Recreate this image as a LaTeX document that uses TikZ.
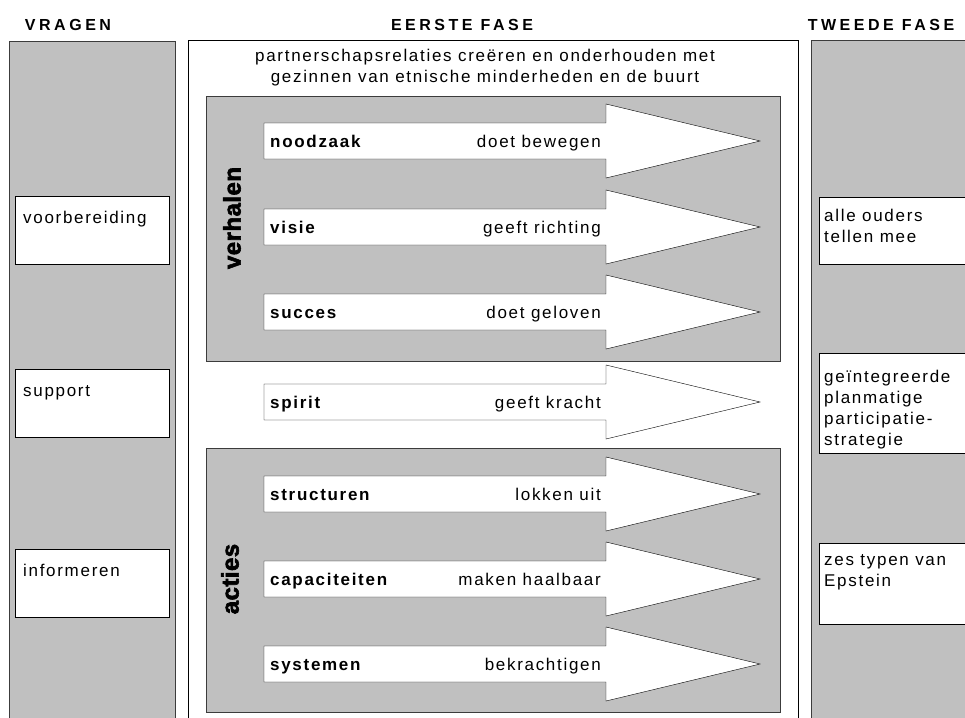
\documentclass[tikz,border=0pt]{standalone}
\usepackage{fontspec}
\setmainfont{Liberation Sans}[LetterSpace=10]
\newfontfamily\heavyfont{Liberation Sans}[LetterSpace=2, BoldFeatures={FakeBold=2.5}]
\usetikzlibrary{positioning}
\definecolor{panelgray}{RGB}{192,192,192}
\definecolor{rimgray}{RGB}{60,60,60}
% one white arrow of the first phase: height, name, cause, effect
\newcommand{\drive}[4]{%
    \draw[drivearrow] (264,#1-18) -- (606,#1-18) -- (606,#1-37) -- (760,#1)
        -- (606,#1+37) -- (606,#1+18) -- (264,#1+18) -- cycle;
    \node[cause]  (#2)        at (270,#1+6) {#3};
    \node[effect] (#2-effect) at (601,#1+6) {#4};
}

\begin{document}
\begin{tikzpicture}[x=1pt, y=-1pt,
                    every node/.style={inner sep=0pt, font=\fontsize{17}{21}\selectfont},
                    column/.style={draw=rimgray, fill=panelgray},
                    phase/.style={draw=black, fill=white},
                    heading/.style={anchor=base, font=\fontsize{16}{21}\selectfont\bfseries\addfontfeature{LetterSpace=22}},
                    drivearrow/.style={draw=black, fill=white},
                    cause/.style={anchor=base west, font=\fontsize{17}{21}\selectfont\bfseries},
                    effect/.style={anchor=base east},
                    upright/.style={rotate=90, font=\heavyfont\bfseries\fontsize{24}{24}\selectfont},
                    askbox/.style={draw=black, fill=white, anchor=north west,
                                   minimum width=154, minimum height=68},
                    stepbox/.style={draw=black, fill=white, anchor=north west, minimum width=170},
                    boxtext/.style={anchor=north west, align=left}]

    \clip (0,0) rectangle (965,717);

    % three columns
    \draw[column] (9,41)   rectangle (175,730);
    \draw[phase]  (188,40) rectangle (798,730);
    \draw[column] (811,40) rectangle (990,730);

    \node[heading] (vragen) at (68,31)  {VRAGEN};
    \node[heading] (eerste) at (462,31) {EERSTE FASE};
    \node[heading] (tweede) at (881,31) {TWEEDE FASE};

    \node[anchor=base] (partners) at (485,62) {partnerschapsrelaties creëren en onderhouden met};
    \node[anchor=base] (buurt)    at (485,82) {gezinnen van etnische minderheden en de buurt};

    % verhalen and acties
    \draw[column] (206,96)  rectangle (780,361);
    \draw[column] (206,448) rectangle (780,712);
    \node[upright] (verhalen) at (232,218) {verhalen};
    \node[upright] (acties)   at (230,579) {acties};

    \drive{141}{noodzaak}{noodzaak}{doet bewegen}
    \drive{227}{visie}{visie}{geeft richting}
    \drive{312}{succes}{succes}{doet geloven}
    \drive{402}{spirit}{spirit}{geeft kracht}
    \drive{494}{structuren}{structuren}{lokken uit}
    \drive{579}{capaciteiten}{capaciteiten}{maken haalbaar}
    \drive{664}{systemen}{systemen}{bekrachtigen}

    % vragen
    \foreach \top/\name in {196/voorbereiding, 369/support, 549/informeren}{
        \node[askbox] (\name) at (15,\top) {};
        \node[cause, font=\fontsize{17}{21}\selectfont] at ([shift={(8,27)}]\name.north west) {\name};
    }

    % tweede fase
    \node[stepbox, minimum height=67]  (ouders)    at (819,197) {};
    \node[stepbox, minimum height=100] (strategie) at (819,353) {};
    \node[stepbox, minimum height=81]  (epstein)   at (819,543) {};
    \node[boxtext] at ([shift={(5,12)}]ouders.north west)    {alle ouders\\tellen mee};
    \node[boxtext] at ([shift={(5,17)}]strategie.north west) {geïntegreerde\\planmatige\\participatie-\\strategie};
    \node[boxtext] at ([shift={(5,11)}]epstein.north west)   {zes typen van\\Epstein};
\end{tikzpicture}
\end{document}
